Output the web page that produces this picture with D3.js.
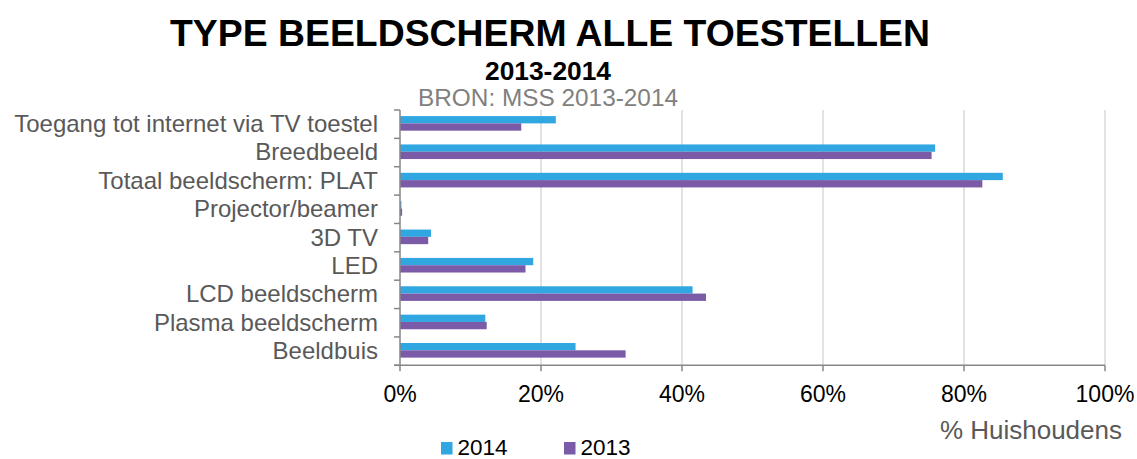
<!DOCTYPE html>
<html>
<head>
<meta charset="utf-8">
<script src="https://cdn.jsdelivr.net/npm/d3@7"></script>
<style>
  body { margin: 0; background: #fff; }
  svg { display: block; }
</style>
</head>
<body>
<div id="chart"></div>
<script>
const categories = [
    "Toegang tot internet via TV toestel",
    "Breedbeeld",
    "Totaal beeldscherm: PLAT",
    "Projector/beamer",
    "3D TV",
    "LED",
    "LCD beeldscherm",
    "Plasma beeldscherm",
    "Beeldbuis"
];
const series = ["2014", "2013"];
const values2014 = [22.1, 75.9, 85.5, 0.2, 4.4, 18.9, 41.5, 12.1, 24.9];
const values2013 = [17.2, 75.4, 82.6, 0.3, 4.0, 17.8, 43.4, 12.3, 32.0];
const xTicks = [0, 20, 40, 60, 80, 100];

const colors = {"2014": "#31a7e2", "2013": "#7b5aa7"};
const narrow = "'Liberation Sans Narrow', 'Arial Narrow', 'Liberation Sans', sans-serif";
const regular = "'Liberation Sans', Arial, sans-serif";

const totalWidth = 1137;
const totalHeight = 459;
const margin = {top: 110, left: 400};
const width = 705;
const height = 255.3;

const svg = d3.select('#chart').append('svg')
    .attr('width', totalWidth)
    .attr('height', totalHeight);

// titles
svg.append('text')
    .attr('x', 550).attr('y', 46)
    .attr('text-anchor', 'middle')
    .attr('font-family', narrow).attr('font-weight', 'bold')
    .attr('font-size', 37)
    .attr('textLength', 760).attr('lengthAdjust', 'spacingAndGlyphs')
    .text('TYPE BEELDSCHERM ALLE TOESTELLEN');
svg.append('text')
    .attr('x', 548).attr('y', 80)
    .attr('text-anchor', 'middle')
    .attr('font-family', narrow).attr('font-weight', 'bold')
    .attr('font-size', 25)
    .attr('textLength', 126).attr('lengthAdjust', 'spacingAndGlyphs')
    .text('2013-2014');
svg.append('text')
    .attr('x', 548).attr('y', 106)
    .attr('text-anchor', 'middle')
    .attr('font-family', narrow)
    .attr('font-size', 24).attr('fill', '#808080')
    .attr('textLength', 260).attr('lengthAdjust', 'spacingAndGlyphs')
    .text('BRON: MSS 2013-2014');

const g = svg.append('g')
    .attr('transform', 'translate(' + margin.left + ',' + margin.top + ')');

// scales
const x = d3.scaleLinear().domain([0, 100]).range([0, width]);
const y = d3.scaleBand().domain(categories).range([0, height])
    .paddingInner(0.485).paddingOuter(0.2425);
const ySub = d3.scaleBand().domain(series).range([0, y.bandwidth()]);

// gridlines
g.selectAll('.grid')
    .data(xTicks.filter(d => d > 0))
    .enter().append('line')
    .attr('x1', d => x(d)).attr('x2', d => x(d))
    .attr('y1', 0).attr('y2', height)
    .attr('stroke', '#d9d9d9').attr('stroke-width', 1.5);

// bars
const rows = categories.map((c, i) => ({name: c, "2014": values2014[i], "2013": values2013[i]}));
const groups = g.selectAll('.row')
    .data(rows)
    .enter().append('g')
    .attr('transform', d => 'translate(0,' + (y(d.name) - 0.8) + ')');
groups.selectAll('rect')
    .data(d => series.map(s => ({key: s, value: d[s]})))
    .enter().append('rect')
    .attr('x', 0)
    .attr('y', d => ySub(d.key))
    .attr('width', d => x(d.value))
    .attr('height', ySub.bandwidth())
    .attr('fill', d => colors[d.key]);

// y axis with ticks between categories
const step = y.step();
g.append('line')
    .attr('x1', 0).attr('x2', 0).attr('y1', 0).attr('y2', height)
    .attr('stroke', '#878787').attr('stroke-width', 1.5);
g.selectAll('.ytick')
    .data(d3.range(categories.length + 1))
    .enter().append('line')
    .attr('x1', -6).attr('x2', 0)
    .attr('y1', d => d * step).attr('y2', d => d * step)
    .attr('stroke', '#878787').attr('stroke-width', 1.5);
g.selectAll('.ylabel')
    .data(categories)
    .enter().append('text')
    .attr('x', -22)
    .attr('y', d => y(d) + y.bandwidth() / 2)
    .attr('dy', '0.33em')
    .attr('text-anchor', 'end')
    .attr('font-family', regular).attr('font-size', 24)
    .attr('fill', '#595959')
    .text(d => d);

// x axis
g.append('line')
    .attr('x1', -6).attr('x2', width).attr('y1', height).attr('y2', height)
    .attr('stroke', '#878787').attr('stroke-width', 1.5);
g.selectAll('.xtick')
    .data(xTicks)
    .enter().append('line')
    .attr('x1', d => x(d)).attr('x2', d => x(d))
    .attr('y1', height).attr('y2', height + 6)
    .attr('stroke', '#878787').attr('stroke-width', 1.5);
g.selectAll('.xlabel')
    .data(xTicks)
    .enter().append('text')
    .attr('x', d => x(d))
    .attr('y', height + 36.5)
    .attr('text-anchor', 'middle')
    .attr('font-family', narrow).attr('font-size', 23)
    .attr('fill', '#000')
    .text(d => d + '%');

// axis title
svg.append('text')
    .attr('x', 1122).attr('y', 439)
    .attr('text-anchor', 'end')
    .attr('font-family', regular).attr('font-size', 26)
    .attr('fill', '#595959')
    .text('% Huishoudens');

// legend
const legendX = [441, 564];
const legend = svg.selectAll('.legend')
    .data(series)
    .enter().append('g')
    .attr('transform', (d, i) => 'translate(' + legendX[i] + ',0)');
legend.append('rect')
    .attr('x', 0).attr('y', 442)
    .attr('width', 11.5).attr('height', 12.5)
    .attr('fill', d => colors[d]);
legend.append('text')
    .attr('x', 16.5).attr('y', 455)
    .attr('font-family', regular).attr('font-size', 22.5)
    .attr('fill', '#000')
    .text(d => d);
</script>
</body>
</html>
